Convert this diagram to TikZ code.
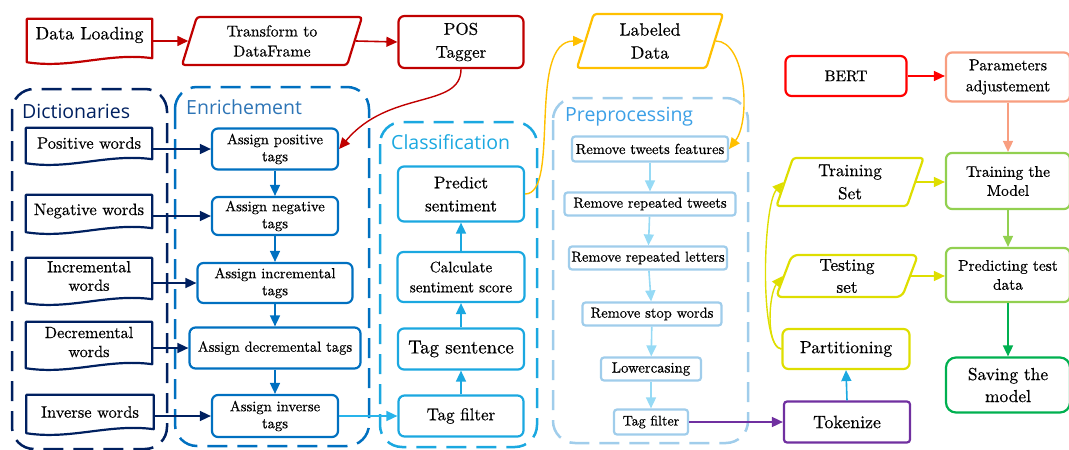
\documentclass[tikz,border=0pt]{standalone}
\usepackage{fontspec}
\setmainfont{lmroman10-regular.otf}[FakeBold=0.5]
\newfontfamily\tfont{Open Sans}
\usetikzlibrary{shapes.geometric,arrows.meta,calc}
\definecolor{cDred}{RGB}{192,0,0}
\definecolor{cRed}{RGB}{255,0,0}
\definecolor{cSalmon}{RGB}{248,158,128}
\definecolor{cGold}{RGB}{255,192,0}
\definecolor{cYel}{RGB}{222,222,0}
\definecolor{cLgreen}{RGB}{146,208,80}
\definecolor{cGreen}{RGB}{0,176,80}
\definecolor{cPurple}{RGB}{112,48,160}
\definecolor{cNavy}{RGB}{0,32,96}
\definecolor{cBlue}{RGB}{0,112,192}
\definecolor{cEnrTitle}{RGB}{46,117,182}
\definecolor{cCyan}{RGB}{27,168,224}
\definecolor{cLblue}{RGB}{160,205,235}
\definecolor{cPreTitle}{RGB}{60,160,230}
\definecolor{cLcyan}{RGB}{150,218,245}
\definecolor{cInvArr}{RGB}{40,180,235}
\newcommand{\mydoc}[3]{\draw[#2, line width=2.2pt, line join=round] (#1.north west) -- (#1.north east) -- ($(#1.south east)+(0,#3-4)$) .. controls +(-44,-6) and +(44,7) .. ($(#1.south west)+(0,#3)$) -- cycle;}
\tikzset{
  box/.style={draw, rounded corners=6pt, line width=2.2pt, align=center, inner sep=1pt, text=black},
  para/.style={trapezium, trapezium left angle=66, trapezium right angle=114, trapezium stretches body, draw, line width=2.2pt, rounded corners=3pt, align=center, inner sep=1pt, text=black},
  docn/.style={draw=none, align=center, inner sep=1pt, text=black},
  arr/.style={line width=1.6pt, -{Triangle[length=11pt,width=10pt]}},
  grp/.style={line width=2.5pt, dash pattern=on 20pt off 10pt, rounded corners=22pt},
  ttl/.style={anchor=west, font=\tfont\fontsize{19.5}{22}\selectfont, inner sep=0pt},
  fA/.style={font=\fontsize{14.6}{17}\selectfont},
  fD/.style={font=\fontsize{16.5}{19}\selectfont},
  fP/.style={font=\fontsize{14.5}{17}\selectfont},
}
\begin{document}
\begin{tikzpicture}[x=1pt,y=-1pt]
\useasboundingbox (0,0) rectangle (1069,450);
% groups
\draw[grp, cNavy] (12,89) rectangle (167,449);
\draw[grp, cBlue] (175,87) rectangle (369,446);
\draw[grp, cCyan] (380,122) rectangle (537,447);
\draw[grp, cLblue] (553,98) rectangle (748,443);
\node[ttl, text=cNavy] (tdict) at (22,111) {Dictionaries};
\node[ttl, text=cEnrTitle] (tenr) at (186,107) {Enrichement};
\node[ttl, text=cCyan] (tcls) at (391,142) {Classification};
\node[ttl, text=cPreTitle] (tpre) at (565,117) {Preprocessing};

% top row
\node[docn, minimum width=125pt, minimum height=32pt, font=\fontsize{18}{21}\selectfont] (dl) at (89.5,35) {Data Loading};
\mydoc{dl}{cDred}{11}
\node[para, draw=cDred, minimum width=180pt, minimum height=48pt, font=\fontsize{15.8}{20}\selectfont] (tr) at (272,41) {Transform to\\DataFrame};
\node[box, draw=cDred, minimum width=125pt, minimum height=52pt, font=\fontsize{17}{23}\selectfont] (pos) at (461,42) {POS\\Tagger};
\node[para, draw=cGold, minimum width=146pt, minimum height=54pt, font=\fontsize{17.8}{23}\selectfont] (ld) at (650,41) {Labeled\\Data};
\node[box, draw=cRed, minimum width=121pt, minimum height=40pt, font=\fontsize{15.5}{19}\selectfont] (bert) at (846,76) {BERT};
\node[box, draw=cSalmon, minimum width=124pt, minimum height=49pt, font=\fontsize{15.8}{21}\selectfont] (par) at (1008,77) {Parameters\\adjustement};

% dictionaries
\node[docn, fD, minimum width=126pt, minimum height=30pt] (pw) at (89,143) {Positive words};
\mydoc{pw}{cNavy}{5}
\node[docn, fD, minimum width=126pt, minimum height=32pt] (nw) at (89,211) {Negative words};
\mydoc{nw}{cNavy}{5}
\node[docn, minimum width=126pt, minimum height=36pt, font=\fontsize{16.2}{18.5}\selectfont] (iw) at (89,276) {Incremental\\words};
\mydoc{iw}{cNavy}{9}
\node[docn, minimum width=126pt, minimum height=40pt, font=\fontsize{16.2}{19}\selectfont] (dw) at (89,342) {Decremental\\words};
\mydoc{dw}{cNavy}{6}
\node[docn, fD, minimum width=127pt, minimum height=34pt] (inw) at (90,412) {Inverse words};
\mydoc{inw}{cNavy}{4}

% enrichement
\node[box, fA, draw=cBlue, minimum width=126pt, minimum height=41pt] (ap) at (275,149) {Assign positive\\tags};
\node[box, fA, draw=cBlue, minimum width=126pt, minimum height=38pt] (an) at (275,216) {Assign negative\\tags};
\node[box, fA, draw=cBlue, minimum width=155pt, minimum height=40pt] (ai) at (275,283) {Assign incremental\\tags};
\node[box, fA, draw=cBlue, minimum width=171pt, minimum height=41pt] (ad) at (275,348) {Assign decremental tags};
\node[box, fA, draw=cBlue, minimum width=126pt, minimum height=42pt] (av) at (275,416) {Assign inverse\\tags};

% classification
\node[box, draw=cCyan, minimum width=126pt, minimum height=55pt, font=\fontsize{17}{23}\selectfont] (ps) at (461,194) {Predict\\sentiment};
\node[box, draw=cCyan, minimum width=127pt, minimum height=50pt, font=\fontsize{15.2}{20}\selectfont] (cs) at (461,277) {Calculate\\sentiment score};
\node[box, draw=cCyan, minimum width=126pt, minimum height=41pt, font=\fontsize{18.8}{22}\selectfont] (ts) at (461,349) {Tag sentence};
\node[box, draw=cCyan, minimum width=125pt, minimum height=41pt, font=\fontsize{17}{20}\selectfont] (tf) at (461,416) {Tag filter};

% preprocessing
\node[box, fP, draw=cLblue, rounded corners=3pt, minimum width=156pt, minimum height=25pt] (r1) at (650,149) {Remove tweets features};
\node[box, fP, draw=cLblue, rounded corners=3pt, minimum width=171pt, minimum height=23pt] (r2) at (650,204) {Remove repeated tweets};
\node[box, fP, draw=cLblue, rounded corners=3pt, minimum width=158pt, minimum height=23pt] (r3) at (648,258) {Remove repeated letters};
\node[box, fP, draw=cLblue, rounded corners=3pt, minimum width=139pt, minimum height=23pt] (r4) at (652,314) {Remove stop words};
\node[box, draw=cLblue, rounded corners=3pt, minimum width=100pt, minimum height=23pt, font=\fontsize{14.8}{17}\selectfont] (r5) at (651,369) {Lowercasing};
\node[box, draw=cLblue, rounded corners=3pt, minimum width=74pt, minimum height=25pt, font=\fontsize{14}{17}\selectfont] (r6) at (651,422) {Tag filter};

% right part
\node[para, draw=cYel, minimum width=147pt, minimum height=48pt, font=\fontsize{17.2}{23}\selectfont] (trs) at (850,182) {Training\\Set};
\node[para, draw=cYel, minimum width=142pt, minimum height=42pt, font=\fontsize{17.2}{22}\selectfont, rounded corners=6pt] (tes) at (847,276) {Testing\\set};
\node[box, draw=cYel, minimum width=127pt, minimum height=40pt, font=\fontsize{17.5}{21}\selectfont] (part) at (846,349) {Partitioning};
\node[box, draw=cPurple, rounded corners=3pt, minimum width=126pt, minimum height=41pt, font=\fontsize{17.8}{21}\selectfont] (tok) at (847,422) {Tokenize};
\node[box, draw=cLgreen, minimum width=124pt, minimum height=56pt, font=\fontsize{15.5}{19}\selectfont] (tm) at (1008,181) {Training the\\Model};
\node[box, draw=cLgreen, minimum width=124pt, minimum height=54pt, font=\fontsize{15.4}{19}\selectfont] (pt) at (1008,275) {Predicting test\\data};
\node[box, draw=cGreen, rounded corners=10pt, minimum width=124pt, minimum height=55pt, font=\fontsize{17.4}{22}\selectfont] (sm) at (1008,385) {Saving the\\model};

% connectors top
\draw[arr, cDred] (dl.east |- tr.left side) -- (tr.left side);
\draw[arr, cDred] (tr.right side) -- (pos.west);
\draw[arr, cDred, line width=1.4pt] (pos.south) .. controls +(0,40) and +(50,-60) .. (ap.east);
\draw[arr, cRed] (bert.east) -- (par.west |- bert.east);
\draw[arr, cSalmon] (par.south) -- (tm.north);
\draw[arr, cLgreen] (tm.south) -- (pt.north);
\draw[arr, cGreen] (pt.south) -- (sm.north);
\draw[arr, cYel] (trs.right side) -- (tm.west |- trs.right side);
\draw[arr, cYel] (tes.right side) -- (pt.west |- tes.right side);
\draw[arr, cYel, line width=1.4pt] (part.west) .. controls +(-22,0) and +(-21,23) .. (trs.left side);
\draw[arr, cYel, line width=1.4pt] (part.west) .. controls +(-16,-3) and +(-14,18) .. (tes.left side);
\draw[arr, cCyan] (tok.north) -- (part.south);
\draw[arr, cPurple] (r6.east) -- (tok.west);
% gold
\draw[arr, cGold, line width=1.4pt] (ps.east) .. controls +(36,0) and +(-58,0) .. (ld.left side);
\draw[arr, cGold, line width=1.4pt] (ld.right side) .. controls +(30,0) and +(22,-29) .. (r1.east);
% dictionaries -> enrichment
\draw[arr, cNavy] (pw.east |- ap.west) -- (ap.west);
\draw[arr, cNavy] (nw.east |- an.west) -- (an.west);
\draw[arr, cNavy] (iw.east |- ai.west) -- (ai.west);
\draw[arr, cNavy] (dw.east |- ad.west) -- (ad.west);
\draw[arr, cNavy] (inw.east |- av.west) -- (av.west);
% enrichment chain
\draw[arr, cBlue] (ap) -- (an);
\draw[arr, cBlue] (an) -- (ai);
\draw[arr, cBlue] (ai) -- (ad);
\draw[arr, cBlue] (ad) -- (av);
\draw[arr, cInvArr] (av.east) -- (tf.west);
% classification chain
\draw[arr, cCyan] (tf) -- (ts);
\draw[arr, cCyan] (ts) -- (cs);
\draw[arr, cCyan] (cs) -- (ps);
% preprocessing chain
\draw[arr, cLcyan] (r1) -- (r2);
\draw[arr, cLcyan] (r2) -- (r3);
\draw[arr, cLcyan] (r3) -- (r4);
\draw[arr, cLcyan] (r4) -- (r5);
\draw[arr, cLcyan] (r5) -- (r6);
\end{tikzpicture}
\end{document}
